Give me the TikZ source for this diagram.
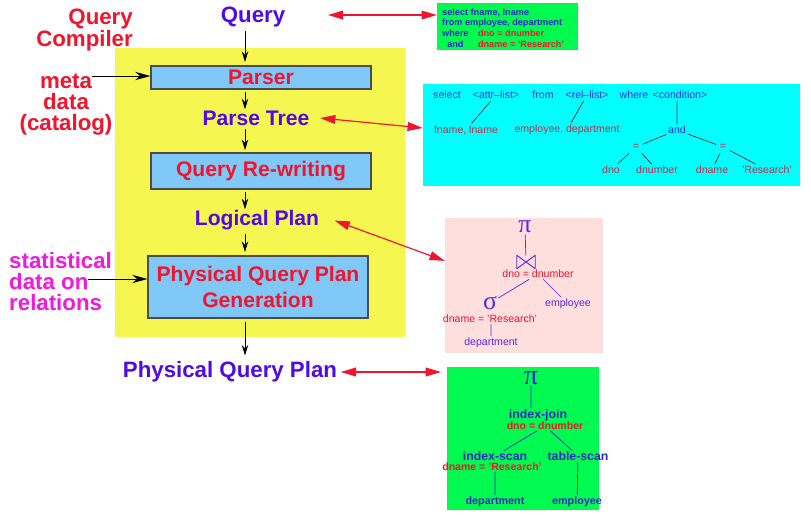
\documentclass[tikz,border=0pt]{standalone}
\usepackage{fontspec}
\setmainfont{Liberation Sans}
\newfontfamily\greekserif{Liberation Serif}
\usepackage{amsmath,amssymb}
\usetikzlibrary{arrows.meta}
\definecolor{qred}{RGB}{240,20,45}
\definecolor{qblue}{RGB}{80,10,230}
\definecolor{qpink}{RGB}{240,25,220}
\definecolor{padyellow}{RGB}{246,246,80}
\definecolor{stageblue}{RGB}{128,200,248}
\definecolor{sqlgreen}{RGB}{0,250,80}
\definecolor{treecyan}{RGB}{0,255,255}
\definecolor{planpink}{RGB}{255,222,222}
\definecolor{leafred}{RGB}{200,40,70}
\definecolor{treeblue}{RGB}{50,50,240}
\definecolor{planblue}{RGB}{90,40,225}
\definecolor{sqlblue}{RGB}{40,40,200}
\tikzstyle{stage} = [draw=black!70, fill=stageblue, text=qred, line width=0.9pt,
    font=\bfseries\fontsize{18}{22}\selectfont, align=center, inner sep=0pt]
\tikzstyle{result} = [text=qblue, font=\bfseries\fontsize{18}{20}\selectfont, inner sep=1pt]
\tikzstyle{sidenote} = [font=\bfseries\fontsize{19}{18}\selectfont, inner sep=0pt]
\tikzstyle{panel} = [inner sep=0pt, draw=none]
\tikzstyle{flow} = [-{Stealth[length=9pt,width=5.5pt]}, line width=0.7pt]
\tikzstyle{feed} = [-{Stealth[length=13pt,width=7pt]}, line width=0.7pt]
\tikzstyle{link} = [{Triangle[length=13pt,width=7.5pt]}-{Triangle[length=13pt,width=7.5pt]},
    qred, line width=1pt]
\tikzstyle{ctop} = [text=treeblue, font=\fontsize{9}{10}\selectfont, inner sep=1.5pt]
\tikzstyle{cleaf} = [text=leafred, font=\fontsize{9}{10}\selectfont, inner sep=1.5pt]
\tikzstyle{pnode} = [text=planblue, font=\fontsize{9}{10}\selectfont, inner sep=1.5pt]
\tikzstyle{pcond} = [text=qred, font=\fontsize{9}{10}\selectfont, inner sep=1pt]
\tikzstyle{gop} = [text=sqlblue, font=\bfseries\fontsize{10.5}{11}\selectfont, inner sep=0.5pt]
\tikzstyle{gcond} = [text=qred, font=\bfseries\fontsize{9}{10}\selectfont, inner sep=0.5pt]
\tikzstyle{gleaf} = [text=sqlblue, font=\bfseries\fontsize{9.2}{10}\selectfont, inner sep=1.5pt]
\tikzstyle{opsym} = [inner sep=1pt, font=\greekserif\fontsize{22}{22}\selectfont]
\tikzstyle{joinmark} = [minimum width=0.54cm, minimum height=0.39cm, inner sep=0pt]

\begin{document}
\begin{tikzpicture}[x=0.03cm, y=-0.03cm]
    \useasboundingbox (0,0) rectangle (811,524);
    % compiler area
    \fill[padyellow] (115,48) rectangle (405,337);

    % stages of the compiler
    \node[stage, minimum width=6.6cm, minimum height=0.69cm] (parser) at (261,77.5) {Parser};
    \node[stage, minimum width=6.6cm, minimum height=1.08cm] (rewrite) at (261,171) {Query Re-writing};
    \node[stage, minimum width=6.6cm, minimum height=1.86cm] (physgen) at (258,287) {Physical Query Plan\\Generation};

    % what goes in and out
    \node[result, font=\bfseries\fontsize{19}{20}\selectfont] (query) at (253,17) {Query};
    \node[result] (ptree) at (256,118) {Parse Tree};
    \node[result] (lplan) at (257,220.5) {Logical Plan};
    \node[result, font=\bfseries\fontsize{19}{20}\selectfont] (pplan) at (230,372) {Physical Query Plan};

    \node[sidenote, text=qred, align=right, anchor=east, font=\bfseries\fontsize{19}{17}\selectfont] (compiler) at (133,30) {Query\\Compiler};
    \node[sidenote, text=qred, align=center] (meta) at (66,105) {meta\\data\\(catalog)};
    \node[sidenote, text=qpink, align=left, anchor=west] (stats) at (9,281.5) {statistical\\data on\\relations};

    \coordinate (spine) at (245,0);
    \coordinate (metatail) at (92,76);
    \coordinate (stattail) at (88,279);

    \draw[flow, shorten <=2pt, shorten >=3pt] (query.south -| spine) -- (parser.north -| spine);
    \draw[flow, shorten <=2pt] (parser.south -| spine) -- (ptree.north -| spine);
    \draw[flow, shorten <=2pt, shorten >=2pt] (ptree.south -| spine) -- (rewrite.north -| spine);
    \draw[flow, shorten <=2pt] (rewrite.south -| spine) -- (lplan.north -| spine);
    \draw[flow, shorten <=2pt, shorten >=3pt] (lplan.south -| spine) -- (physgen.north -| spine);
    \draw[flow, shorten <=3pt, shorten >=4pt] (physgen.south -| spine) -- (pplan.north -| spine);
    \draw[feed] (metatail) -- (metatail -| parser.west);
    \draw[feed] (stattail) -- (stattail -| physgen.west);

    % SQL text
    \node[panel, fill=sqlgreen, minimum width=4.23cm, minimum height=1.41cm] (sqlbox) at (507.5,26.5) {};
    \node[anchor=west, inner sep=0pt, text=sqlblue, font=\bfseries\fontsize{7.8}{9.1}\selectfont] (sqltext) at (442,29) {%
        \begin{tabular}{@{}c@{\hspace{8pt}}l@{}}
            \multicolumn{2}{@{}l}{select fname, lname}\\
            \multicolumn{2}{@{}l}{from employee, department}\\
            where & \textcolor{qred}{dno = dnumber}\\
            and & \textcolor{qred}{dname = 'Research'}
        \end{tabular}};

    % parse tree
    \node[panel, fill=treecyan, minimum width=11.31cm, minimum height=3.06cm] (parsebox) at (611.5,135) {};
    \node[ctop] (select) at (447,95) {select};
    \node[ctop] (attr) at (496,95) {<attr--list>};
    \node[ctop] (from) at (543,95) {from};
    \node[ctop] (rel) at (587,95) {<rel--list>};
    \node[ctop] (where) at (634,95) {where};
    \node[ctop] (cond) at (680,95) {<condition>};
    \node[cleaf] (attrs) at (466,130) {fname, lname};
    \node[cleaf] (rels) at (567,130) {employee, department};
    \node[ctop] (and) at (677,130) {and};
    \node[cleaf, inner sep=3pt] (eqa) at (636,147) {=};
    \node[cleaf, inner sep=3pt] (eqb) at (723,147) {=};
    \node[cleaf] (dno) at (611,170) {dno};
    \node[cleaf] (dnumber) at (657,170) {dnumber};
    \node[cleaf] (dname) at (712,170) {dname};
    \node[cleaf] (research) at (767,170) {'Research'};
    \draw[black!80, line width=0.6pt] (attr) -- (attrs) (rel) -- (rels)
        (cond.south -| and.north) -- (and.north)
        (and) -- (eqa) (and) -- (eqb) (eqa) -- (dno) (eqa) -- (dnumber)
        (eqb) -- (dname) (eqb) -- (research);

    % logical plan
    \node[panel, fill=planpink, minimum width=4.74cm, minimum height=4.05cm] (lplanbox) at (524,285.5) {};
    \node[opsym, text=planblue] (pia) at (525,227) {π};
    \node[joinmark] (joina) at (526,262) {};
    \draw[planblue, line width=0.8pt, line join=round]
        (joina.north west) -- (joina.south west) -- (joina.center) -- cycle
        (joina.north east) -- (joina.south east) -- (joina.center) -- cycle;
    \node[pcond] (jconda) at (538,274) {dno = dnumber};
    \node[opsym, text=planblue] (sigmaa) at (490,303) {σ};
    \node[pcond] (sconda) at (490,319) {dname = 'Research'};
    \node[pnode] (empa) at (568,304) {employee};
    \node[pnode] (depta) at (491,343) {department};
    \draw[planblue, line width=0.6pt] (pia) -- (joina) (jconda) -- (sigmaa) (jconda) -- (empa)
        (sconda.south -| depta.north) -- (depta.north);

    % physical plan
    \node[panel, fill=sqlgreen, minimum width=4.56cm, minimum height=4.29cm] (pplanbox) at (523,438.5) {};
    \node[opsym, text=sqlblue, font=\greekserif\fontsize{24}{24}\selectfont] (pib) at (531,378) {π};
    \node[gop] (ijoin) at (538,415) {index-join};
    \node[gcond] (jcondb) at (545,426) {dno = dnumber};
    \node[gop] (iscan) at (495,456) {index-scan};
    \node[gcond] (scondb) at (492,467) {dname = 'Research'};
    \node[gop] (tscan) at (578,456) {table-scan};
    \node[gleaf] (deptb) at (495,502) {department};
    \node[gleaf] (empb) at (577,502) {employee};
    \draw[sqlblue, line width=0.6pt] (pib) -- (pib |- ijoin.north) (jcondb) -- (iscan) (jcondb) -- (tscan)
        (deptb.north |- scondb.south) -- (deptb.north) (tscan) -- (empb);

    % links to the examples
    \coordinate (qtip) at (328,15);
    \draw[link] (qtip) -- (qtip -| sqlbox.west);
    \draw[link] ([xshift=8pt]ptree.east) -- ([yshift=6pt]parsebox.west);
    \draw[link] ([xshift=12pt]lplan.east) -- ([yshift=21pt]lplanbox.west);
    \draw[link, shorten >=5pt] ([xshift=2pt]pplan.east) -- (pplan.east -| pplanbox.west);
\end{tikzpicture}
\end{document}
